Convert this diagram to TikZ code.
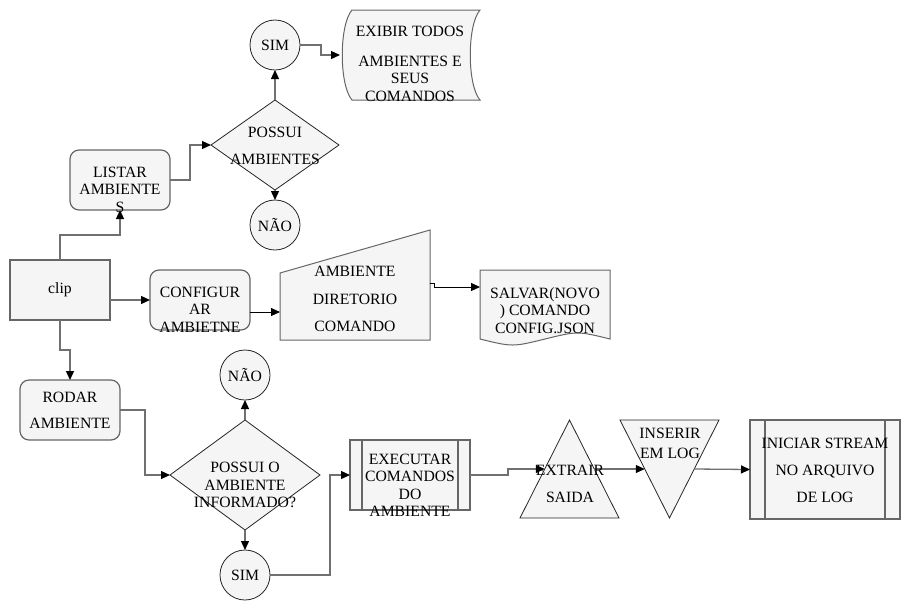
\documentclass[tikz,border=0pt]{standalone}
\usepackage{fontspec}
\setmainfont{Liberation Serif}
\usetikzlibrary{arrows.meta,shapes.geometric,calc}
\definecolor{shfill}{HTML}{F5F5F5}
\definecolor{gline}{HTML}{666666}
\definecolor{eline}{HTML}{707070}
\newcommand\txtfont{\fontsize{15.7}{17.5}\selectfont}
\begin{document}
\begin{tikzpicture}[x=1pt,y=-1pt,
  bb/.style={rectangle,inner sep=0pt,outer sep=0pt,draw=none},
  gbox/.style={rectangle,fill=shfill,draw=gline,line width=1.2pt,inner sep=0pt,outer sep=0pt},
  rbox/.style={gbox,rounded corners=9pt},
  circ/.style={circle,fill=shfill,draw=black!85,line width=0.8pt,minimum size=50pt,inner sep=0pt,outer sep=0pt,font=\txtfont},
  dia/.style={diamond,fill=shfill,draw=black!85,line width=0.8pt,inner sep=0pt,outer sep=0pt},
  shp/.style={fill=shfill,draw=black!85,line width=0.8pt},
  gshp/.style={fill=shfill,draw=gline,line width=1pt},
  bar/.style={draw=gline,line width=1.2pt},
  txt/.style={align=center,inner sep=0pt,font=\txtfont},
  conn/.style={draw=eline,line width=1.3pt,-{Triangle[length=9pt,width=8pt,color=black,fill=black]}},
  tconn/.style={draw=black,line width=0.9pt,-{Triangle[length=9pt,width=8pt,color=black,fill=black]}},
]
\fill[white] (0,0) rectangle (910,614);
\useasboundingbox (0,0) rectangle (910,614);

% ---- shapes ----
\node[gbox,minimum width=100pt,minimum height=60pt] (clip) at (60,290) {};
\node[rbox,minimum width=100pt,minimum height=60pt] (listar) at (120,180) {};
\node[dia,minimum width=128pt,minimum height=90pt] (dia1) at (275,145) {};
\node[circ] (sim1) at (275,45) {SIM};
\node[circ] (nao1) at (275,225) {NÃO};
\node[bb,minimum width=140pt,minimum height=90pt] (exibir) at (410,55) {};
\draw[gshp] (352,10) -- (480,10) .. controls (467,25) and (467,85) .. (480,100) -- (352,100) .. controls (339,85) and (339,25) .. (352,10) -- cycle;

\node[rbox,minimum width=100pt,minimum height=60pt] (config) at (200,300) {};
\node[bb,minimum width=150pt,minimum height=110pt] (manual) at (355,285) {};
\draw[gshp] (280,273) -- (430,230) -- (430,340) -- (280,340) -- cycle;
\node[bb,minimum width=130pt,minimum height=70pt] (salvar) at (545,305) {};
\draw[gshp] (480,270) -- (610,270) -- (610,339) .. controls (577.5,331) .. (545,339) .. controls (512.5,347) .. (480,339) -- cycle;

\node[rbox,minimum width=100pt,minimum height=60pt] (rodar) at (70,410) {};
\node[dia,minimum width=150pt,minimum height=110pt] (dia2) at (245,475) {};
\node[circ] (nao2) at (245,375) {NÃO};
\node[circ] (sim2) at (245,575) {SIM};

\node[gbox,minimum width=120pt,minimum height=70pt] (exec) at (410,475) {};
\draw[bar] ([xshift=12pt]exec.north west) -- ([xshift=12pt]exec.south west);
\draw[bar] ([xshift=-12pt]exec.north east) -- ([xshift=-12pt]exec.south east);

\node[bb,minimum width=99pt,minimum height=98pt] (extr) at (569.5,469) {};
\draw[shp] (extr.south west) -- (extr.north) -- (extr.south east) -- cycle;
\node[bb,minimum width=99pt,minimum height=98pt] (ins) at (669.5,469) {};
\draw[shp] (ins.north west) -- (ins.north east) -- (ins.south) -- cycle;

\node[gbox,minimum width=150pt,minimum height=99pt] (inic) at (825,469.5) {};
\draw[bar] ([xshift=15pt]inic.north west) -- ([xshift=15pt]inic.south west);
\draw[bar] ([xshift=-15pt]inic.north east) -- ([xshift=-15pt]inic.south east);

\coordinate (extrL) at ($(extr.south west)!0.5!(extr.north)$);
\coordinate (extrR) at ($(extr.south east)!0.5!(extr.north)$);
\coordinate (insL) at ($(ins.north west)!0.5!(ins.south)$);
\coordinate (insR) at ($(ins.north east)!0.5!(ins.south)$);

% ---- connectors ----
\draw[conn] (clip.north) -- ++(0,-25) -| (listar.south);
\draw[conn] (listar.east) -- ++(20,0) |- (dia1.west);
\draw[conn] (dia1.north) -- (sim1.south);
\draw[conn] (dia1.south) -- (nao1.north);
\draw[conn] (sim1.east) -- ++(21,0) |- (exibir.west);
\draw[conn] ([yshift=-10pt]clip.east) -- ([yshift=-10pt]clip.east -| config.west);
\draw[conn] (clip.south) -- ++(0,30) -| (rodar.north);
\draw[tconn] ([yshift=-12pt]config.east) -- ([yshift=-12pt]config.east -| manual.west);
\draw[tconn] ([yshift=2pt]manual.east) -- ++(4,0) -- ++(0,4) -- ([yshift=-17pt]salvar.north west);
\draw[conn] (rodar.east) -- ++(25,0) |- (dia2.west);
\draw[conn] (dia2.north) -- (nao2.south);
\draw[conn] (dia2.south) -- (sim2.north);
\draw[conn] (sim2.east) -- ++(60,0) |- (exec.west);
\draw[conn] (exec.east) -- ++(38,0) |- (extrL);
\draw[conn] (extrR) -- (insL);
\draw[conn] (insR) -- (inic.west);

% ---- texts ----
\node[txt] (clip-t) at (60,290) {clip};
\node[txt] (listar-t) at (120,189.7) {LISTAR\\AMBIENTE\\S};
\node[txt] (dia1-t) at (275,145.5) {POSSUI\\[9.5pt]AMBIENTES};
\node[txt] (exibir-t) at (410,63.5) {EXIBIR TODOS\\[12.5pt]AMBIENTES E\\SEUS\\COMANDOS};
\node[txt] (config-t) at (200,309.7) {CONFIGUR\\AR\\AMBIETNE};
\node[txt] (manual-t) at (355,299) {AMBIENTE\\[10pt]DIRETORIO\\[10pt]COMANDO};
\node[txt] (salvar-t) at (545,310.5) {SALVAR(NOVO\\) COMANDO\\CONFIG.JSON};
\node[txt] (rodar-t) at (70,410) {RODAR\\[8.5pt]AMBIENTE};
\node[txt] (dia2-t) at (245,485) {POSSUI O\\AMBIENTE\\INFORMADO?};
\node[txt] (exec-t) at (410,485.5) {EXECUTAR\\COMANDOS\\DO\\AMBIENTE};
\node[txt] (extr-t) at (570,483.5) {EXTRAIR\\[9.5pt]SAIDA};
\node[txt] (ins-t) at (670,443) {INSERIR\\[2.5pt]EM LOG};
\node[txt] (inic-t) at (825,470) {INICIAR STREAM\\[9.5pt]NO ARQUIVO\\[9.5pt]DE LOG};
\end{tikzpicture}
\end{document}
